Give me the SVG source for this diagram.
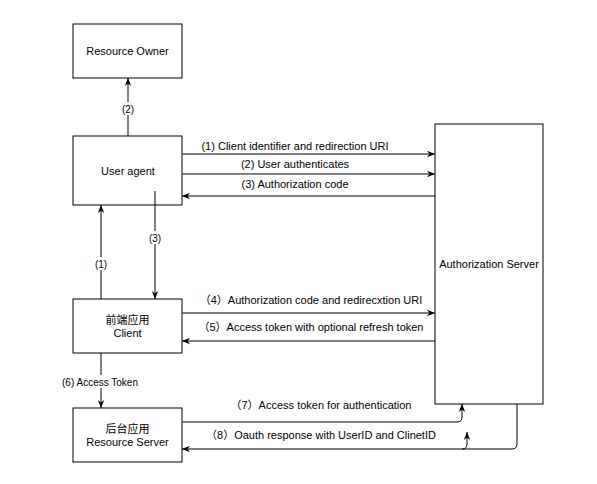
<svg xmlns="http://www.w3.org/2000/svg" width="597" height="484" viewBox="0 0 597 484">
<defs>
<style>
.box{fill:#fff;stroke:#000;stroke-width:1}
.t{font-family:"Liberation Sans","Noto Sans CJK SC",Arial,sans-serif;font-size:11px;fill:#000;text-anchor:middle}
.s{font-family:"Liberation Sans","Noto Sans CJK SC",Arial,sans-serif;font-size:10px;fill:#000;text-anchor:middle}
.e{fill:none;stroke:#000;stroke-width:1}
.bg{fill:#fff}
</style>
<marker id="arr" viewBox="0 0 10 10" refX="10" refY="5" markerWidth="8" markerHeight="8" markerUnits="userSpaceOnUse" orient="auto">
<path d="M0,1 L10,5 L0,9 L3,5 z" fill="#000"/>
</marker>
</defs>
<rect width="597" height="484" fill="#fff"/>
<g id="connectors">
<path class="e" d="M128,136 V78" marker-end="url(#arr)"/>
<path class="e" d="M182,154 H435" marker-end="url(#arr)"/>
<path class="e" d="M182,174 H435" marker-end="url(#arr)"/>
<path class="e" d="M435,196 H182" marker-end="url(#arr)"/>
<path class="e" d="M101,299 V205" marker-end="url(#arr)"/>
<path class="e" d="M155,191 V299" marker-end="url(#arr)"/>
<path class="e" d="M182,313 H435" marker-end="url(#arr)"/>
<path class="e" d="M435,341 H182" marker-end="url(#arr)"/>
<path class="e" d="M101,353 V408" marker-end="url(#arr)"/>
<path class="e" d="M182,422 H457 Q462,422 462,417 V404" marker-end="url(#arr)"/>
<path class="e" d="M517,404 V444 Q517,449 512,449 H182" marker-end="url(#arr)"/>
<path class="e" d="M462,449 Q467,449 467,444 V432" marker-end="url(#arr)"/>
<rect class="bg" x="120" y="102" width="16" height="13"/>
<text class="s" x="128" y="112.5">(2)</text>
<rect class="bg" x="93" y="257" width="16" height="13"/>
<text class="s" x="101" y="267.5">(1)</text>
<rect class="bg" x="147" y="231" width="16" height="13"/>
<text class="s" x="155" y="241.5">(3)</text>
<rect class="bg" x="61" y="375" width="78" height="13"/>
<text class="s" x="100" y="385.5">(6) Access Token</text>
<text class="t" x="295" y="150">(1) Client identifier and redirection URI</text>
<text class="t" x="295" y="168">(2) User authenticates</text>
<text class="t" x="295" y="188">(3) Authorization code</text>
<text class="t" x="311" y="304">（4）Authorization code and redirecxtion URI</text>
<text class="t" x="311" y="331">（5）Access token with optional refresh token</text>
<text class="t" x="321" y="409">（7）Access token for authentication</text>
<text class="t" x="321" y="439">（8）Oauth response with UserID and ClinetID</text>
</g>
<g id="resource-owner">
<rect class="box" x="73" y="24" width="109" height="54"/>
<text class="t" x="127.5" y="55">Resource Owner</text>
</g>
<g id="user-agent">
<rect class="box" x="73" y="136" width="109" height="69" fill-opacity="0"/>
<text class="t" x="128" y="175">User agent</text>
</g>
<g id="client">
<rect class="box" x="73" y="299" width="109" height="54"/>
<text class="t" x="127.5" y="324">前端应用</text>
<text class="t" x="127.5" y="337">Client</text>
</g>
<g id="resource-server">
<rect class="box" x="73" y="408" width="109" height="54"/>
<text class="t" x="127.5" y="433">后台应用</text>
<text class="t" x="127.5" y="446">Resource Server</text>
</g>
<g id="authorization-server">
<rect class="box" x="435" y="124" width="108" height="280"/>
<text class="t" x="489" y="268">Authorization Server</text>
</g>
</svg>
